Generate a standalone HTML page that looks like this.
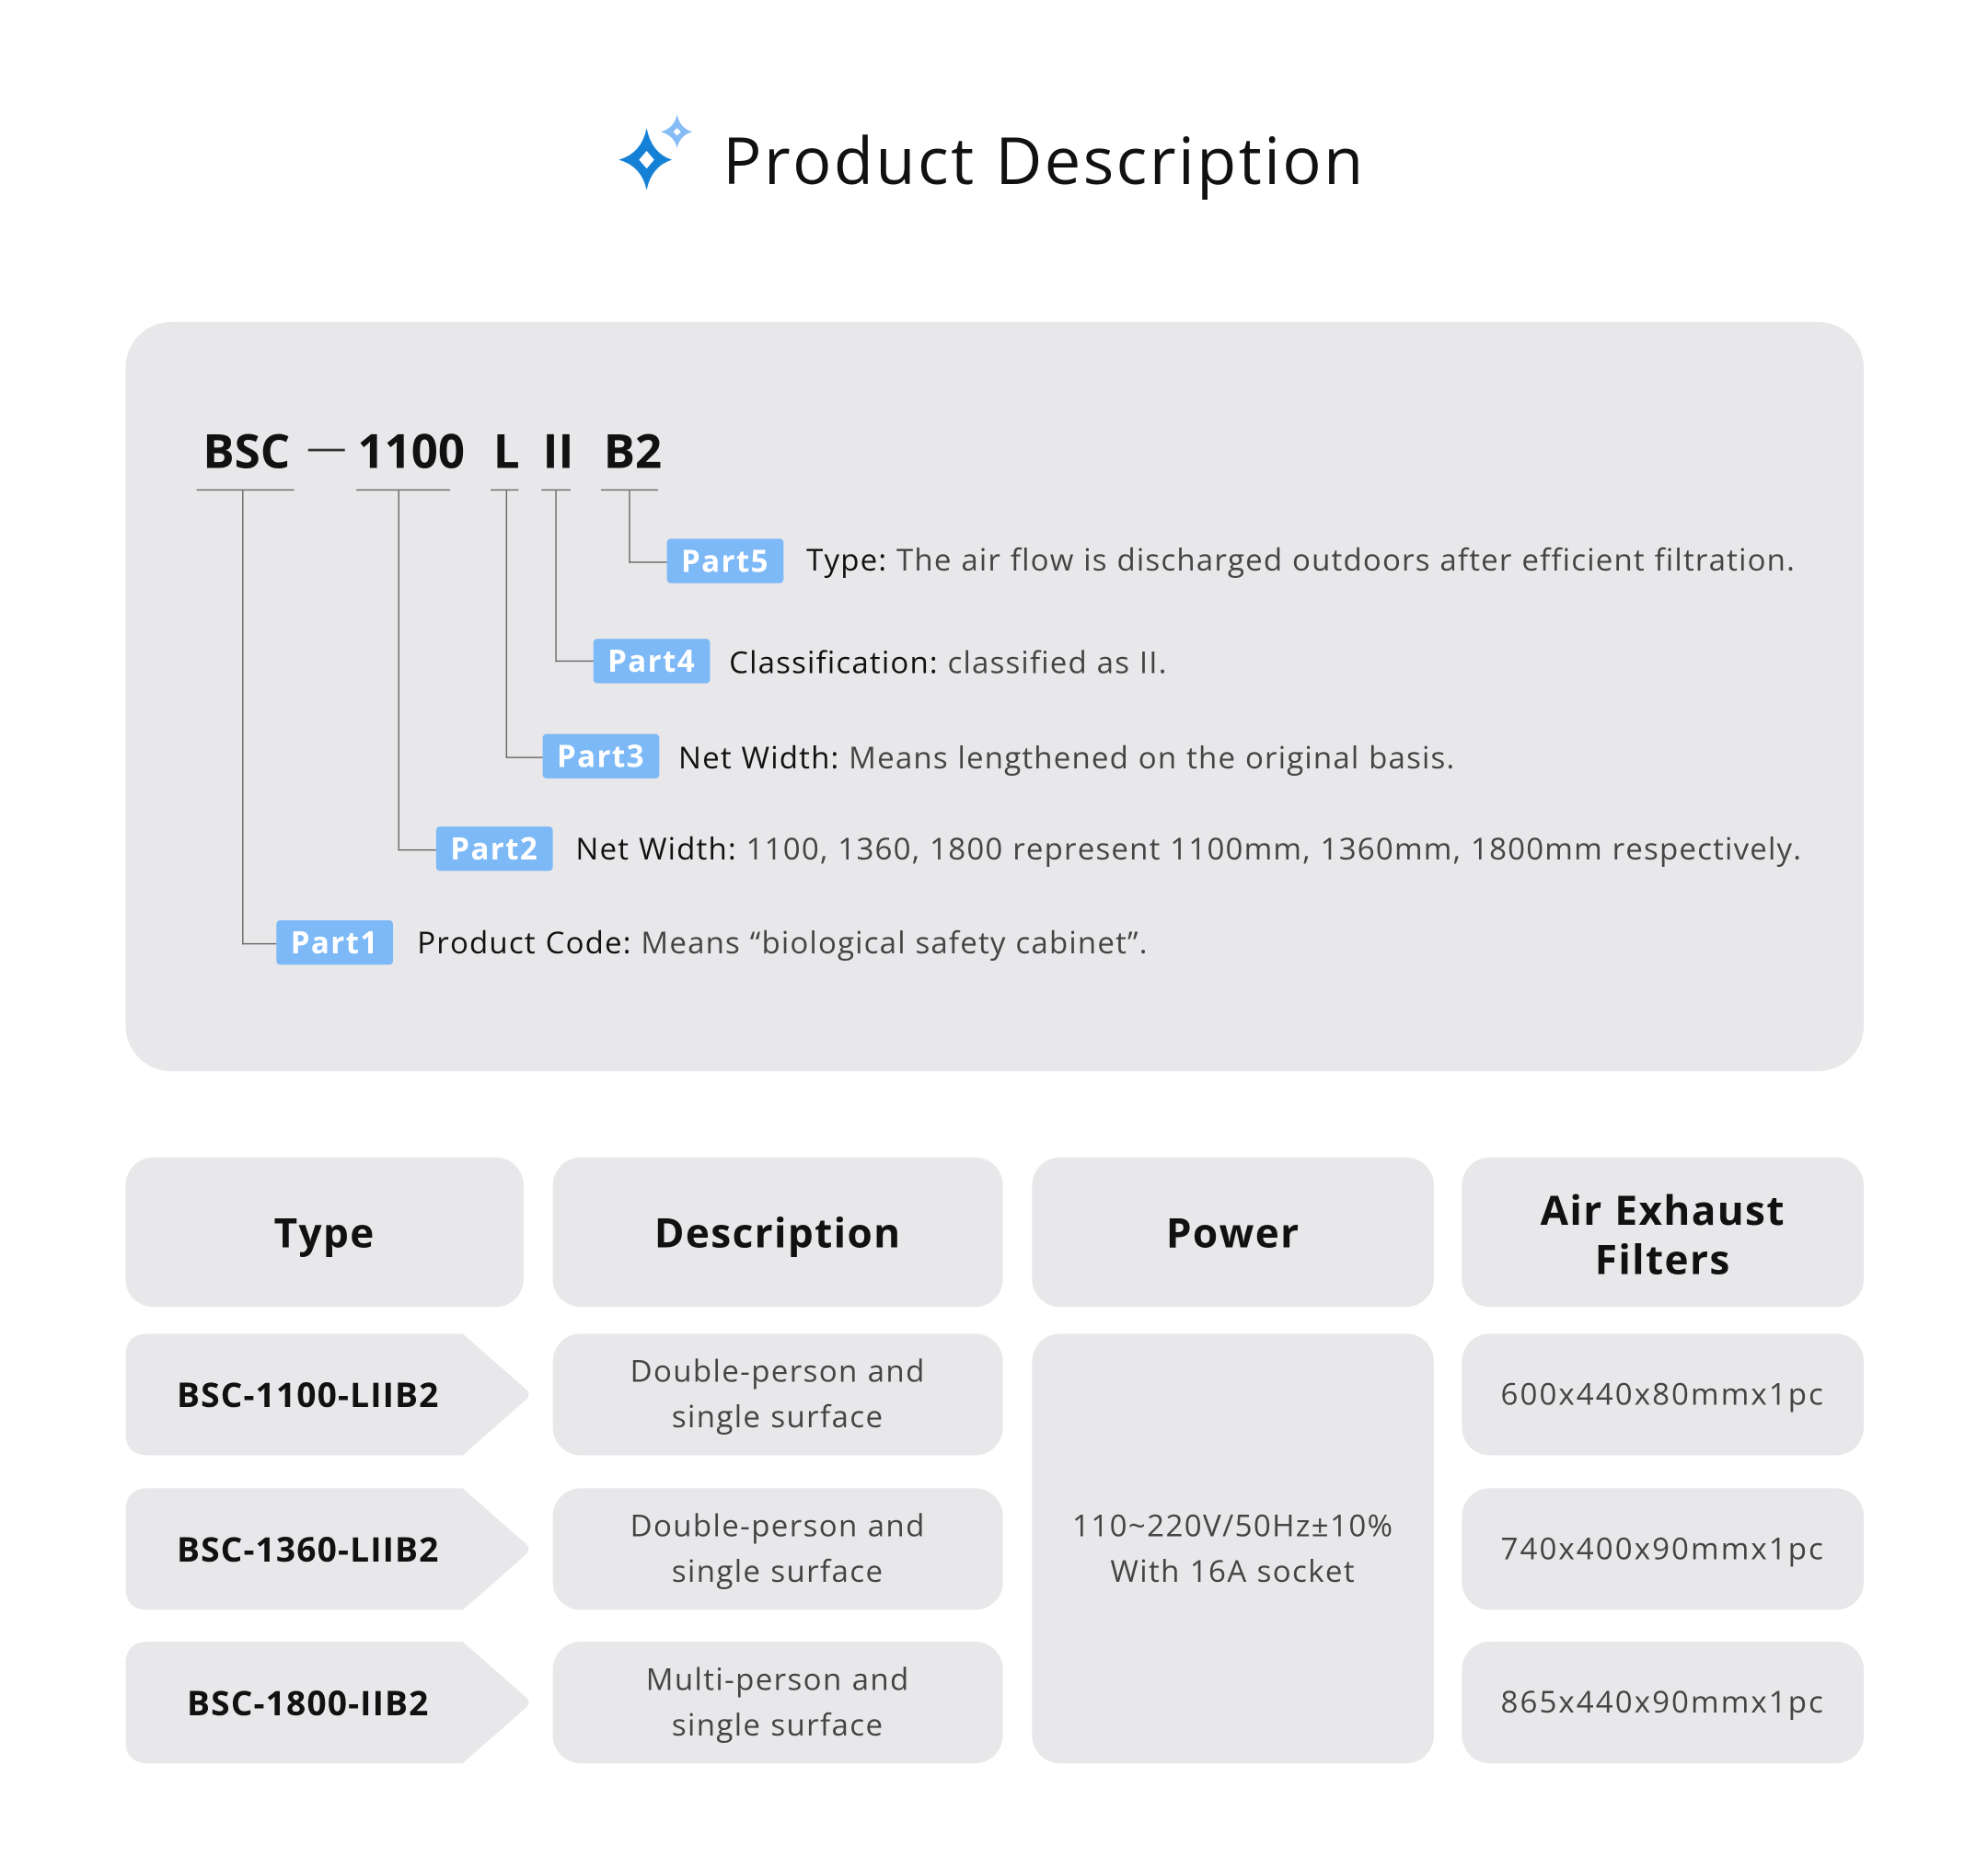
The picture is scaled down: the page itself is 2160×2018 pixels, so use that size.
<!DOCTYPE html>
<html><head><meta charset="utf-8"><style>
html,body{margin:0;padding:0;background:#fff;}
body{width:2160px;height:2018px;overflow:hidden;position:relative;}
#s{position:absolute;left:0;top:0;width:1568px;height:1465px;transform:scale(1.3776);transform-origin:0 0;font-family:"Open Sans","Liberation Sans",sans-serif;}
.a{position:absolute;}
.title{left:570px;top:90px;font-size:51px;color:#111;letter-spacing:1.8px;white-space:nowrap;line-height:70px;}
.box{left:99px;top:254px;width:1371px;height:591px;background:#e8e8ea;border-radius:36px;}
.code{top:330px;font-size:37px;font-weight:bold;color:#111;line-height:50px;}
.ul{height:1px;background:#666;top:386px;}
.vl{width:1px;background:#666;}
.hl{height:1px;background:#666;}
.badge{background:#7db8f7;color:#fff;font-weight:bold;font-size:24px;width:92px;height:35px;line-height:35px;text-align:center;border-radius:3px;letter-spacing:1px;}
.txt{font-size:24px;color:#444;white-space:nowrap;line-height:35px;letter-spacing:0.85px;}
.txt b{font-weight:normal;color:#111;}
.cell{background:#e8e8ea;border-radius:22px;display:flex;align-items:center;justify-content:center;text-align:center;}
.h{font-size:32px;font-weight:bold;color:#111;line-height:39px;letter-spacing:1px;}
.c{font-size:24px;color:#444;line-height:36px;letter-spacing:1.5px;}
.d{letter-spacing:1px;}
.t{font-size:27px;font-weight:bold;color:#111;letter-spacing:0.8px;}
</style></head><body><div id="s">
<svg class="a" style="left:480px;top:85px" width="80" height="70" viewBox="480 85 80 70">
<path d="M510 101 Q514 121 530 126 Q514 131 510 150 Q506 131 488 126 Q506 121 510 101Z" fill="#1581d6"/>
<path d="M510 119 L516 126 L510 133 L504 126Z" fill="#fff"/>
<path d="M534 90 Q536 101 546 104 Q536 107 534 117 Q532 107 521 104 Q532 101 534 90Z" fill="#86bcf6"/>
<path d="M534 101 L537 104 L534 107 L531 104Z" fill="#fff"/>
</svg>
<div class="a title">Product Description</div>
<div class="a box"></div>
<div class="a code" style="left:160px">BSC</div>
<div class="a" style="left:243px;top:354px;width:29px;height:2px;background:#333"></div>
<div class="a code" style="left:282px">1100</div>
<div class="a code" style="left:389px">L</div>
<div class="a code" style="left:428px">II</div>
<div class="a code" style="left:476px">B2</div>
<div class="a ul" style="left:155px;width:77px"></div>
<div class="a ul" style="left:281px;width:74px"></div>
<div class="a ul" style="left:387px;width:22px"></div>
<div class="a ul" style="left:427px;width:23px"></div>
<div class="a ul" style="left:474px;width:45px"></div>
<div class="a vl" style="left:191px;top:387px;height:358px"></div><div class="a hl" style="left:191px;top:744px;width:27px"></div>
<div class="a vl" style="left:314px;top:387px;height:284px"></div><div class="a hl" style="left:314px;top:670px;width:30px"></div>
<div class="a vl" style="left:399px;top:387px;height:211px"></div><div class="a hl" style="left:399px;top:597px;width:29px"></div>
<div class="a vl" style="left:438px;top:387px;height:135px"></div><div class="a hl" style="left:438px;top:521px;width:30px"></div>
<div class="a vl" style="left:496px;top:387px;height:57px"></div><div class="a hl" style="left:496px;top:443px;width:30px"></div>
<div class="a badge" style="left:526px;top:425px">Part5</div>
<div class="a txt" style="left:636px;top:424px"><b>Type:</b> The air flow is discharged outdoors after efficient filtration.</div>
<div class="a badge" style="left:468px;top:504px">Part4</div>
<div class="a txt" style="left:575px;top:505px"><b>Classification:</b> classified as II.</div>
<div class="a badge" style="left:428px;top:579px">Part3</div>
<div class="a txt" style="left:535px;top:580px"><b>Net Width:</b> Means lengthened on the original basis.</div>
<div class="a badge" style="left:344px;top:652px">Part2</div>
<div class="a txt" style="left:454px;top:652px"><b>Net Width:</b> 1100, 1360, 1800 represent 1100mm, 1360mm, 1800mm respectively.</div>
<div class="a badge" style="left:218px;top:726px">Part1</div>
<div class="a txt" style="left:329px;top:726px"><b>Product Code:</b> Means “biological safety cabinet”.</div>

<div class="a cell h" style="left:99px;top:913px;width:314px;height:118px">Type</div>
<div class="a cell h" style="left:436px;top:913px;width:355px;height:118px">Description</div>
<div class="a cell h" style="left:814px;top:913px;width:317px;height:118px">Power</div>
<div class="a cell h" style="left:1153px;top:917px;width:317px;height:114px;padding-top:4px;box-sizing:border-box;top:913px;height:118px">Air Exhaust<br>Filters</div>

<svg class="a" style="left:99px;top:1052px" width="320" height="340">
<path d="M18 0 H266 L316 44 Q320 48 316 52 L266 96 H18 Q0 96 0 78 V18 Q0 0 18 0Z" fill="#e8e8ea"/>
<path d="M18 122 H266 L316 166 Q320 170 316 174 L266 218 H18 Q0 218 0 200 V140 Q0 122 18 122Z" fill="#e8e8ea"/>
<path d="M18 243 H266 L316 287 Q320 291 316 295 L266 339 H18 Q0 339 0 321 V261 Q0 243 18 243Z" fill="#e8e8ea"/>
</svg>
<div class="a t" style="left:99px;top:1081px;width:288px;text-align:center">BSC-1100-LIIB2</div>
<div class="a t" style="left:99px;top:1203px;width:288px;text-align:center">BSC-1360-LIIB2</div>
<div class="a t" style="left:99px;top:1324px;width:288px;text-align:center">BSC-1800-IIB2</div>

<div class="a cell c d" style="left:436px;top:1052px;width:355px;height:96px">Double-person and<br>single surface</div>
<div class="a cell c d" style="left:436px;top:1174px;width:355px;height:96px">Double-person and<br>single surface</div>
<div class="a cell c d" style="left:436px;top:1295px;width:355px;height:96px">Multi-person and<br>single surface</div>
<div class="a cell c d" style="left:814px;top:1052px;width:317px;height:339px">110~220V/50Hz±10%<br>With 16A socket</div>
<div class="a cell c" style="left:1153px;top:1052px;width:317px;height:96px">600x440x80mmx1pc</div>
<div class="a cell c" style="left:1153px;top:1174px;width:317px;height:96px">740x400x90mmx1pc</div>
<div class="a cell c" style="left:1153px;top:1295px;width:317px;height:96px">865x440x90mmx1pc</div>
</div></body></html>
